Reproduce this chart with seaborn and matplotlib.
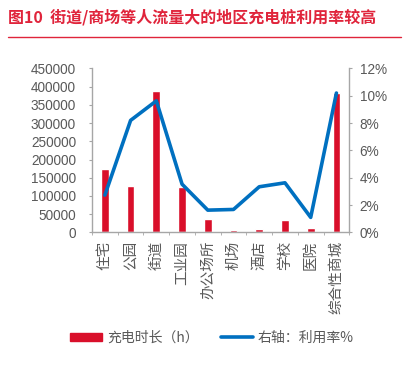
import matplotlib
matplotlib.use("Agg")
import matplotlib.pyplot as plt
import seaborn as sns
import pandas as pd
from matplotlib.patches import Patch
from matplotlib.lines import Line2D
from matplotlib.ticker import FuncFormatter, FixedLocator

categories = ["住宅", "公园", "街道", "工业园", "办公场所", "机场", "酒店", "学校", "医院", "综合性商城"]
charge_hours = [175000, 127000, 387000, 123500, 37500, 6500, 10000, 33000, 11000, 381500]
usage_rate = [2.73, 8.2, 9.63, 3.53, 1.63, 1.68, 3.34, 3.63, 1.1, 10.2]

left_ticks = list(range(0, 450001, 50000))
right_ticks = list(range(0, 13, 2))

title_text = "图10  街道/商场等人流量大的地区充电桩利用率较高"
bar_label = "充电时长（h）"
line_label = "右轴：利用率%"

RED = "#D90F2A"
BLUE = "#0070C0"
GRAY = "#595959"
AXIS_GRAY = "#A6A6A6"
CJK = ["Noto Sans CJK SC", "DejaVu Sans"]

sns.set_style("white")
plt.rcParams["font.family"] = ["Liberation Sans", "Noto Sans CJK SC", "DejaVu Sans"]

df = pd.DataFrame({"cat": categories, "hours": charge_hours, "rate": usage_rate})

fig = plt.figure(figsize=(4.09, 3.66), dpi=100)
ax = fig.add_axes([0.225, 0.365, 0.629, 0.448])

sns.barplot(data=df, x="cat", y="hours", color=RED, width=0.3, saturation=1, ax=ax)
ax.set_ylim(0, 450000)
ax.set_yticks(left_ticks)
ax.set_xlabel("")
ax.set_ylabel("")

ax2 = ax.twinx()
sns.lineplot(data=df, x="cat", y="rate", color=BLUE, linewidth=2.6, sort=False, ax=ax2)
ax2.set_ylim(0, 12)
ax2.set_yticks(right_ticks)
ax2.yaxis.set_major_formatter(FuncFormatter(lambda v, p: f"{v:.0f}%"))
ax2.set_ylabel("")
ax2.set_xlabel("")
ax.set_xlim(-0.5, len(categories) - 0.5)

for a in (ax, ax2):
    for s in a.spines.values():
        s.set_visible(False)
ax.spines["left"].set_visible(True)
ax.spines["bottom"].set_visible(True)
ax2.spines["right"].set_visible(True)
for s in (ax.spines["left"], ax.spines["bottom"], ax2.spines["right"]):
    s.set_color(AXIS_GRAY)
    s.set_linewidth(1.0)

ax.tick_params(axis="y", direction="out", length=2.5, color=AXIS_GRAY, labelcolor=GRAY, labelsize=9.8, pad=9, left=True)
ax2.tick_params(axis="y", direction="out", length=2.5, color=AXIS_GRAY, labelcolor=GRAY, labelsize=9.8, pad=5, right=True)

# category labels, ticks at category boundaries
ax.set_xticks(range(len(categories)))
ax.set_xticklabels(categories, rotation=90, fontsize=10.5, color=GRAY, family=CJK)
ax.tick_params(axis="x", which="major", length=0, pad=6)
ax.xaxis.set_minor_locator(FixedLocator([i - 0.5 for i in range(len(categories) + 1)]))
ax.tick_params(axis="x", which="minor", direction="out", length=2.5, color=AXIS_GRAY, bottom=True)

# title and rule
fig.text(0.02, 0.952, title_text, color="#E0243B", fontsize=11.5, fontweight="bold",
         family=CJK, va="center", ha="left")
fig.add_artist(Line2D([0.02, 0.98], [0.898, 0.898], color="#E0243B", linewidth=1.0, transform=fig.transFigure))

handles = [Patch(facecolor=RED, edgecolor=RED), Line2D([0], [0], color=BLUE, linewidth=2.6)]
fig.legend(handles, [bar_label, line_label], loc="center", bbox_to_anchor=(0.518, 0.077), ncol=2,
           frameon=False, handlelength=2.3, handleheight=0.5, columnspacing=1.6, handletextpad=0.35,
           prop={"family": CJK, "size": 10}, labelcolor=GRAY)

fig.savefig("out.png", dpi=100)
